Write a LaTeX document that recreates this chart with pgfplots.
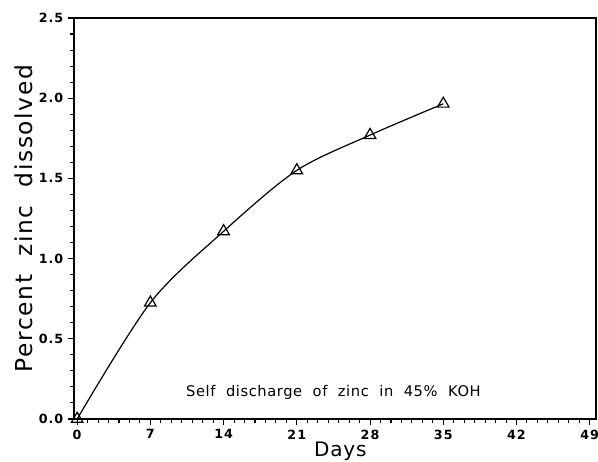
\documentclass[border=0pt]{standalone}
\usepackage{fontspec}
\setmainfont{DejaVu Sans}
\newfontfamily\labfont[LetterSpace=4]{DejaVu Sans}
\newfontfamily\ylabfont[LetterSpace=7]{DejaVu Sans}
\newfontfamily\tickfont[LetterSpace=8]{DejaVu Sans}
\usepackage{pgfplots}
\pgfplotsset{compat=1.18}

\begin{document}
\begin{tikzpicture}[x=1pt,y=1pt]
\begin{axis}[
    name=ax,
    scale only axis,
    width=391.5pt, height=300.75pt,
    xmin=-0.3, xmax=49.6,
    ymin=0, ymax=2.5,
    xtick={0,7,...,49},
    ytick={0,0.5,...,2.5},
    minor x tick num=6,
    minor y tick num=4,
    tick align=outside,
    xtick pos=bottom, ytick pos=left,
    major tick length=4.5pt,
    minor tick length=3pt,
    tick style={black, line width=0.8pt},
    axis line style={line width=1pt},
    /pgf/number format/assume math mode=true,
    yticklabel style={/pgf/number format/fixed, /pgf/number format/fixed zerofill,
        /pgf/number format/precision=1},
    tick label style={font=\tickfont\bfseries\fontsize{9.5}{10}\selectfont},
    xlabel={\labfont\fontsize{15}{16}\selectfont Days},
    ylabel={\ylabfont\fontsize{17.5}{18}\selectfont Percent~~zinc~~dissolved},
    xlabel style={xshift=4pt, yshift=5pt},
    ylabel style={yshift=-2pt},
]
\addplot[black, line width=0.9pt, smooth, tension=0.5] coordinates {
(0,0) (7,0.725) (14,1.17) (21,1.55) (28,1.77) (35,1.965)
};
\addplot[black, only marks, mark=triangle, mark size=5pt, mark options={line width=0.9pt}] coordinates {
(0,0) (7,0.725) (14,1.17) (21,1.55) (28,1.77) (35,1.965)
};
\node[font=\labfont\fontsize{11}{12}\selectfont] at (axis cs:24.5,0.165) {Self~ discharge~ of~ zinc~ in~ 45\% ~KOH};
\end{axis}
\pgfresetboundingbox
\path[use as bounding box] ([xshift=-55.5pt,yshift=-32.25pt]ax.south west) rectangle ([xshift=1.5pt,yshift=13.5pt]ax.north east);
\end{tikzpicture}
\end{document}
